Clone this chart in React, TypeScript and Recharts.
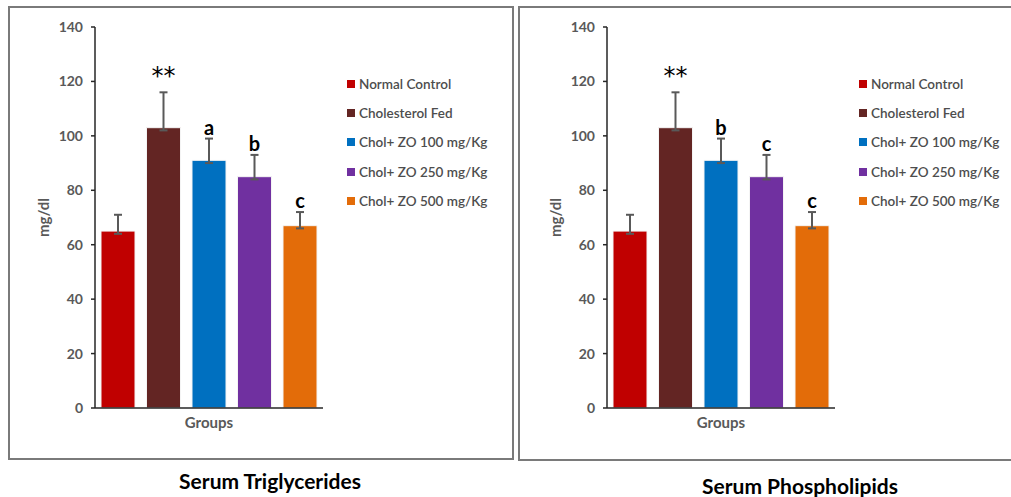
import { BarChart, Bar, XAxis, YAxis, ErrorBar, LabelList, Label, Legend } from 'recharts';

const groups = ['Normal Control', 'Cholesterol Fed', 'Chol+ ZO 100 mg/Kg', 'Chol+ ZO 250 mg/Kg', 'Chol+ ZO 500 mg/Kg'];
const colors = ['#C00000', '#632523', '#0070C0', '#7030A0', '#E36C09'];
const yTicks = [0, 20, 40, 60, 80, 100, 120, 140];

const tgMeans = [65, 103, 91, 85, 67];
const tgErrUp = [6, 13, 8, 8, 5];
const tgErrDown = [1, 1, 1, 1, 1];
const tgMarks = ['', '**', 'a', 'b', 'c'];

const plMeans = [65, 103, 91, 85, 67];
const plErrUp = [6, 13, 8, 8, 5];
const plErrDown = [1, 1, 1, 1, 1];
const plMarks = ['', '**', 'b', 'c', 'c'];

const FONT = 'Lato, "Open Sans", sans-serif';
const GRAY = '#595959';

function buildRow(means: number[], up: number[], down: number[], marks: string[]) {
  const row: Record<string, any> = { name: 'Groups' };
  means.forEach((m, i) => {
    row[`s${i}`] = m;
    row[`e${i}`] = [down[i], up[i]];
    row[`m${i}`] = marks[i];
  });
  return [row];
}

// label sits just above the top of the error bar
const markRenderer = (mean: number, up: number) => (props: any) => {
  const { x, y, width, height, value } = props;
  if (!value) return null;
  const top = y - (up * height) / mean;
  const star = value === '**';
  return (
    <text
      x={x + width / 2}
      y={top - (star ? 8 : 4)}
      textAnchor="middle"
      fill="#000"
      fontFamily={star ? '"DejaVu Sans", sans-serif' : FONT}
      fontSize={star ? 24 : 20}
      fontWeight={star ? 400 : 700}
    >
      {value}
    </text>
  );
};

const renderLegend = (props: any) => {
  const { payload } = props;
  return (
    <div style={{ fontFamily: FONT }}>
      {payload.map((p: any) => (
        <div key={p.value} style={{ display: 'flex', alignItems: 'center', height: 29.3 }}>
          <span style={{ width: 8, height: 8, background: p.color, marginRight: 4, display: 'inline-block' }} />
          <span style={{ fontSize: 13.5, color: '#4d4d4d', fontWeight: 600, whiteSpace: 'nowrap' }}>{p.value}</span>
        </div>
      ))}
    </div>
  );
};

function GroupChart({ means, up, down, marks, left }: any) {
  const data = buildRow(means, up, down, marks);
  return (
    <div style={{ position: 'absolute', left, top: 0 }}>
      <BarChart
        width={500}
        height={460}
        data={data}
        margin={{ top: 27, right: 177, bottom: 22, left: 35 }}
        barSize={34}
        barGap={11.5}
      >
        <XAxis
          dataKey="name"
          height={30}
          tickLine={false}
          tickMargin={3}
          axisLine={{ stroke: '#262626', strokeWidth: 1.5 }}
          tick={{ fill: GRAY, fontSize: 15, fontWeight: 700, fontFamily: FONT }}
        />
        <YAxis
          width={60}
          domain={[0, 140]}
          ticks={yTicks}
          interval={0}
          tickSize={4}
          tickMargin={8}
          axisLine={{ stroke: '#262626', strokeWidth: 1.5 }}
          tickLine={{ stroke: '#262626', strokeWidth: 1.5 }}
          tick={{ fill: GRAY, fontSize: 14, fontWeight: 700, fontFamily: FONT }}
        >
          <Label
            value="mg/dl"
            angle={-90}
            position="insideLeft"
            offset={9}
            style={{ fill: GRAY, fontSize: 15, fontWeight: 700, fontFamily: FONT, textAnchor: 'middle' }}
          />
        </YAxis>
        <Legend
          layout="vertical"
          align="center"
          verticalAlign="middle"
          itemSorter="dataKey"
          content={renderLegend}
          wrapperStyle={{ left: 347, top: 69, width: 160, height: 150 }}
        />
        {groups.map((g, i) => (
          <Bar key={g} dataKey={`s${i}`} name={g} fill={colors[i]} stroke="#f4f4f4" strokeWidth={1} isAnimationActive={false}>
            <ErrorBar dataKey={`e${i}`} width={4} stroke={GRAY} strokeWidth={2} direction="y" />
            <LabelList dataKey={`m${i}`} content={markRenderer(means[i], up[i])} />
          </Bar>
        ))}
      </BarChart>
    </div>
  );
}

export default function App() {
  const titleStyle: any = {
    position: 'absolute',
    fontFamily: FONT,
    fontWeight: 700,
    fontSize: 21,
    color: '#000',
    transform: 'translateX(-50%)',
    whiteSpace: 'nowrap',
  };
  return (
    <div style={{ position: 'absolute', left: 0, top: 0, width: 1011, height: 497, background: '#fff', overflow: 'hidden' }}>
      <div style={{ position: 'absolute', left: 8, top: 6, width: 502, height: 450, border: '2px solid #7a7a7a' }} />
      <div style={{ position: 'absolute', left: 518, top: 6, width: 500, height: 451, border: '2px solid #7a7a7a' }} />
      <GroupChart means={tgMeans} up={tgErrUp} down={tgErrDown} marks={tgMarks} left={0} />
      <GroupChart means={plMeans} up={plErrUp} down={plErrDown} marks={plMarks} left={512} />
      <div style={{ ...titleStyle, left: 270, top: 468 }}>Serum Triglycerides</div>
      <div style={{ ...titleStyle, left: 800, top: 473 }}>Serum Phospholipids</div>
    </div>
  );
}
